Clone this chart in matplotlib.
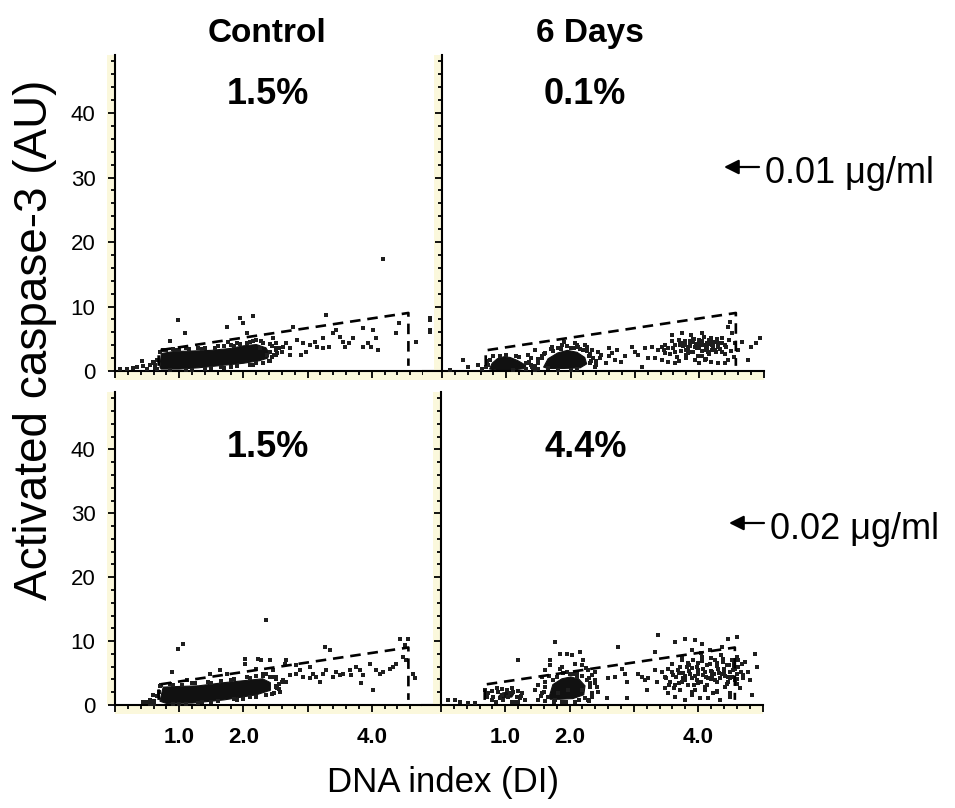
import matplotlib
matplotlib.use("Agg")
import matplotlib.pyplot as plt
import matplotlib.transforms as mtransforms
from matplotlib.patches import Rectangle, FancyArrowPatch

plt.rcParams['font.family'] = ['Liberation Sans', 'DejaVu Sans']

# ---- data (DNA index, activated caspase-3 AU) ----

# gate drawn in every panel
gate_x = [0.68, 0.68, 4.57, 4.57]
gate_y = [0.8, 3.2, 9.0, 0.8]

col_titles = ['Control', '6 Days']
row_doses = ['0.01 \u03bcg/ml', '0.02 \u03bcg/ml']
percent_labels = ['1.5%', '0.1%', '1.5%', '4.4%']
xtick_vals = [0, 1, 2, 3, 4, 5]
xtick_text = ['', '1.0', '2.0', '', '4.0', '']
ytick_vals = [0, 10, 20, 30, 40]

# dense (saturated) cores, outlines
tl_core_x = [0.70, 0.72, 0.90, 1.20, 1.50, 1.80, 2.00, 2.20, 2.35, 2.40, 2.38, 2.25, 2.00, 1.60, 1.30, 1.00, 0.72]
tl_core_y = [0.60, 2.70, 3.00, 3.10, 3.20, 3.50, 3.90, 4.10, 3.60, 2.80, 2.00, 1.60, 1.20, 0.80, 0.50, 0.30, 0.30]

tr_core1_x = [0.74, 0.78, 0.86, 0.96, 1.06, 1.18, 1.30, 1.30, 1.10, 0.85]
tr_core1_y = [0.30, 1.20, 1.90, 2.20, 2.10, 1.60, 0.90, 0.40, 0.15, 0.15]
tr_core2_x = [1.58, 1.65, 1.80, 1.95, 2.10, 2.22, 2.25, 2.15, 1.90, 1.65]
tr_core2_y = [0.60, 1.90, 2.80, 3.20, 2.90, 2.10, 1.10, 0.50, 0.40, 0.40]

bl_core_x = [0.70, 0.75, 1.00, 1.30, 1.70, 2.00, 2.30, 2.42, 2.42, 2.20, 1.70, 1.20, 0.80]
bl_core_y = [0.60, 2.80, 2.90, 3.00, 3.50, 3.80, 4.10, 3.50, 2.30, 1.60, 0.80, 0.30, 0.25]

br_core1_x = [0.90, 0.96, 1.05, 1.13, 1.10, 1.00, 0.92]
br_core1_y = [1.40, 1.90, 2.00, 1.70, 1.25, 1.15, 1.20]
br_core2_x = [1.68, 1.74, 1.88, 2.02, 2.15, 2.24, 2.22, 2.05, 1.85, 1.70]
br_core2_y = [1.20, 3.20, 4.10, 4.40, 4.00, 3.00, 1.60, 1.00, 0.90, 0.90]

# single events
tl_x = [0.985, 1.09, 0.855, 0.415, 0.596, 0.44, 0.078, 0.18, 0.285, 1.74, 1.94, 2.15, 1.995, 2.05, 1.76,
        2.46, 2.51, 2.62, 2.72, 2.77, 2.83, 2.93, 3.03, 2.98, 3.14, 3.24, 3.34, 3.29, 3.40, 3.45, 3.50, 3.55,
        3.58, 3.65, 3.71, 3.24, 3.86, 3.94, 3.99, 4.02, 4.07, 4.10, 3.86, 4.43, 4.69, 4.90, 4.90, 4.38, 2.51,
        2.72, 2.41, 2.36, 2.26, 2.90, 2.67, 3.11, 4.17,
        0.75, 0.90, 1.10, 1.40, 1.60, 1.80, 1.90, 2.10, 2.20, 2.30, 2.45, 2.50, 2.48, 2.40, 2.10, 1.80, 1.50,
        1.20, 0.65, 0.60, 2.55, 2.60, 1.30, 1.00, 1.70, 2.20,
        0.70, 0.80, 0.95, 1.15, 1.35, 1.55, 1.70, 1.85, 1.95, 2.05, 2.15, 2.28, 2.42, 2.50, 2.52, 2.45,
        2.42, 2.30, 2.15, 1.90, 1.65, 1.40, 1.10, 0.85, 0.62, 0.62, 0.66, 0.50, 0.35, 0.55]
tl_y = [7.93, 5.96, 4.66, 1.60, 1.45, 0.80, 0.28, 0.28, 0.43, 6.90, 8.20, 8.55, 7.40, 5.86, 4.56,
        5.08, 4.30, 3.78, 3.52, 6.90, 4.80, 4.30, 4.04, 3.00, 3.78, 3.52, 3.78, 8.70, 5.86, 6.40, 5.34, 4.56,
        3.78, 4.30, 5.08, 5.08, 6.60, 4.30, 3.78, 6.40, 5.08, 3.27, 3.78, 7.40, 4.56, 8.20, 6.10, 5.86, 2.50,
        2.50, 3.00, 2.50, 3.52, 2.50, 4.30, 4.56, 17.4,
        3.30, 3.40, 3.50, 3.60, 3.80, 4.00, 4.40, 4.50, 4.80, 4.40, 3.90, 3.20, 2.50, 1.50, 1.00, 0.60, 0.40,
        0.15, 0.30, 1.20, 3.60, 3.00, 3.50, 3.30, 0.50, 1.20,
        2.90, 3.20, 3.25, 3.40, 3.45, 3.50, 3.80, 3.90, 4.20, 4.30, 4.60, 4.60, 4.20, 3.60, 2.80, 2.20,
        1.60, 1.30, 1.00, 0.80, 0.55, 0.30, 0.10, 0.10, 0.50, 0.90, 1.70, 0.30, 0.60, 1.00]

tr_x = [0.332, 0.41, 0.565, 0.124, 1.34, 1.39, 1.45, 1.55, 1.71, 1.86, 2.07, 2.22, 2.25, 2.33, 2.43, 2.48,
        2.59, 2.64, 2.69, 2.72, 2.79, 2.85, 2.95, 3.00, 3.05, 3.11, 3.16, 3.26, 3.31, 3.36, 3.42, 3.47, 3.52,
        3.57, 3.62, 3.68, 3.73, 3.78, 3.80, 3.88, 3.93, 3.99, 4.04, 4.06, 4.09, 4.14, 4.19, 4.25, 4.30, 4.35,
        4.40, 4.45, 4.48, 4.51, 4.56, 4.61, 4.66, 4.76, 4.81, 4.89, 4.95, 3.83, 3.62, 3.47, 3.21, 3.93, 4.04,
        4.19, 4.30, 3.52, 3.73, 3.91, 4.01, 4.12, 4.22, 3.83, 3.62, 3.42, 4.35, 4.40, -0.19, -0.19,
        0.70, 0.80, 1.00, 1.20, 1.35, 1.40, 0.68, 1.10, 1.50, 1.55, 1.60, 1.70, 1.80, 1.95, 2.05, 2.15, 2.25,
        2.30, 2.35, 2.30, 2.38, 2.10, 1.80, 1.50, 1.45, 1.90, 2.10, 2.40,
        3.70, 3.75, 3.85, 3.95, 4.00, 4.05, 4.10, 4.15, 4.20, 4.25, 4.30, 3.80, 3.90, 4.10,
        3.45, 3.55, 3.60, 3.65, 3.70, 3.72, 3.78, 3.80, 3.82, 3.86, 3.88, 3.92, 3.96, 3.98, 4.02, 4.05,
        4.08, 4.12, 4.16, 4.18, 4.22, 4.26, 4.28, 4.32, 4.36, 4.40, 4.42, 4.46, 4.50, 4.54, 3.58, 3.68,
        4.00, 4.10, 4.45, 3.90, 4.00, 4.15, 3.85, 4.20,
        1.50, 1.58, 1.65, 1.72, 1.85, 2.00, 2.12, 2.20, 2.28, 2.32, 2.40, 2.45, 2.55, 2.60, 1.42, 1.35,
        1.30, 2.00, 0.72, 0.75, 0.90, 1.15, 1.30, 1.38, 1.45, 0.62]
tr_y = [1.70, 0.57, 0.93, 0.16, 2.50, 1.97, 3.27, 2.25, 3.78, 4.04, 4.30, 4.04, 3.78, 3.27, 3.00, 2.50,
        3.52, 2.75, 1.70, 3.27, 1.45, 2.25, 3.78, 3.00, 2.50, 0.67, 3.52, 3.78, 1.97, 3.27, 1.70, 4.04, 1.45,
        5.60, 1.19, 4.80, 5.86, 4.04, 1.97, 5.60, 3.78, 4.80, 5.86, 4.04, 1.70, 3.00, 5.08, 4.56, 3.78, 3.00,
        1.19, 6.90, 7.67, 5.86, 4.30, 3.27, 4.56, 1.70, 3.78, 4.30, 5.08, 2.75, 3.00, 2.75, 1.97, 1.70, 2.25,
        1.45, 1.19, 3.52, 4.30, 4.56, 4.04, 4.30, 3.52, 3.78, 4.04, 3.78, 5.08, 4.04, 7.90, 6.40,
        1.50, 2.30, 2.50, 2.10, 1.40, 0.60, 0.60, 0.10, 1.20, 2.00, 2.80, 3.40, 3.60, 3.90, 3.60, 3.40, 3.10,
        2.60, 2.00, 1.20, 0.60, 0.30, 0.20, 0.30, 0.80, 4.50, 4.00, 1.50,
        4.30, 3.80, 4.60, 4.20, 3.50, 4.60, 3.90, 4.80, 4.10, 3.30, 4.40, 3.20, 3.00, 3.20,
        3.20, 2.60, 3.60, 2.20, 4.00, 3.10, 4.60, 2.50, 3.40, 4.20, 2.90, 5.00, 3.60, 2.40, 4.40, 3.10,
        5.20, 3.60, 2.60, 4.50, 3.90, 2.90, 5.00, 3.40, 4.30, 2.60, 3.70, 4.80, 3.10, 2.20, 4.60, 1.60,
        1.30, 1.90, 1.70, 4.90, 4.00, 4.20, 3.80, 3.30,
        1.80, 2.60, 0.40, 3.10, 3.40, 3.60, 3.70, 3.20, 2.40, 1.50, 0.90, 2.00, 1.20, 2.40, 0.50, 1.20,
        0.30, 0.20, 0.90, 1.70, 2.40, 2.30, 1.20, 0.90, 0.20, 0.30]

bl_x = [2.359, 0.985, 1.063, 0.881, 2.022, 2.022, 2.229, 2.281, 2.410, 2.670, 2.644, 2.825, 3.033, 3.266,
        3.344, 3.240, 3.136, 3.188, 3.447, 3.499, 3.551, 3.655, 3.681, 3.836, 3.966, 4.018, 4.070, 4.121,
        4.173, 4.277, 4.329, 4.380, 4.432, 4.562, 4.510, 4.484, 4.536, 4.640, 4.666, 2.514, 2.618, 2.722,
        2.825, 2.929, 3.033, 2.514, 2.566, 2.670, 2.307, 2.410, 2.462, 1.633, 1.737, 2.203, 1.115, 1.477,
        0.544, 0.440, 0.596, 2.877, 3.085, 3.292, 3.396, 3.759, 3.810, 3.862,
        0.70, 0.90, 1.20, 1.50, 1.80, 2.10, 2.30, 2.50, 2.50, 2.45, 2.20, 1.90, 1.50, 1.00, 0.60, 0.65,
        2.60, 2.55, 1.30, 2.00,
        0.68, 0.72, 0.85, 1.05, 1.25, 1.45, 1.65, 1.85, 2.05, 2.20, 2.35, 2.48, 2.55, 2.52, 2.48, 2.35,
        2.10, 1.85, 1.60, 1.35, 1.10, 0.90, 0.60, 0.50, 0.55]
bl_y = [13.32, 8.81, 9.59, 5.18, 7.26, 6.48, 7.26, 7.00, 7.00, 7.00, 6.48, 6.22, 5.96, 9.07,
        8.55, 4.92, 4.41, 3.63, 5.18, 4.67, 4.92, 5.44, 4.67, 3.37, 6.48, 2.33, 5.44, 4.92,
        5.18, 5.70, 5.96, 6.48, 10.37, 10.37, 9.33, 7.52, 7.00, 4.92, 4.15, 4.41, 3.89, 4.67,
        4.92, 4.41, 4.15, 2.85, 2.07, 3.63, 4.92, 4.41, 5.44, 5.44, 4.92, 5.70, 3.89, 4.92,
        0.78, 0.52, 1.56, 5.44, 4.92, 5.44, 4.41, 5.96, 5.44, 4.67,
        3.00, 3.20, 3.40, 3.50, 3.90, 4.30, 4.50, 4.00, 3.00, 1.80, 1.20, 0.80, 0.50, 0.15, 0.20, 1.40,
        3.60, 2.50, 0.30, 1.00,
        2.00, 3.10, 3.30, 3.20, 3.50, 3.60, 3.80, 4.10, 4.40, 4.60, 4.80, 4.40, 3.30, 2.60, 1.90, 1.60,
        1.20, 0.90, 0.60, 0.40, 0.20, 0.10, 0.60, 0.40, 0.20]

br_x = [0.736, 0.814, 0.892, 0.943, 1.021, 1.073, 1.125, 1.177, 1.229, 0.788, 0.969, 1.099, 1.254, 0.684,
        0.866, 0.917, 1.047, 1.203, 0.114, 0.218, 0.295, 0.529, 0.425,
        1.462, 1.514, 1.566, 1.617, 1.695, 1.695, 1.773, 1.851, 1.877, 1.954, 2.032, 2.084, 2.162, 2.188,
        2.214, 2.291, 2.343, 2.395, 2.421, 2.447, 2.343, 2.291, 1.566, 1.669, 1.773, 1.877, 2.084, 2.240,
        1.203, 1.514, 1.617, 2.395, 2.317, 1.747, 2.110, 1.980, 1.825, 2.188, 2.266, 1.954, 2.058,
        2.602, 2.706, 2.758, 2.862, 2.888, 2.888, 2.576, 2.810,
        3.069, 3.121, 3.173, 3.198, 3.328, 3.354, 3.380, 3.432, 3.484, 3.536, 3.561, 3.587, 3.613, 3.639,
        3.639, 3.691, 3.717, 3.743, 3.769, 3.795, 3.821, 3.847, 3.873, 3.899, 3.924, 3.950, 3.976, 4.002,
        4.028, 4.054, 4.054, 4.080, 4.106, 4.132, 4.158, 4.184, 4.210, 4.236, 4.261, 4.287, 4.313, 4.339,
        4.365, 4.391, 4.417, 4.443, 4.469, 4.469, 4.495, 4.521, 4.547, 4.572, 4.598, 4.598, 4.624, 4.650,
        4.676, 4.702, 4.728, 4.780, 4.806, 4.831, 4.883, 4.909, 3.639, 3.795, 3.950, 4.158, 4.287, 3.536,
        3.484, 3.328, 3.224, 3.899, 4.365,
        3.70, 3.80, 3.90, 4.00, 4.10, 4.20, 4.30, 4.40, 4.50, 4.55, 4.60, 3.85, 4.00, 4.25, 4.45, 4.60,
        3.75, 3.95,
        3.50, 3.55, 3.60, 3.65, 3.70, 3.72, 3.76, 3.80, 3.84, 3.86, 3.90, 3.94, 3.98, 4.00, 4.04, 4.06,
        4.08, 4.12, 4.14, 4.18, 4.20, 4.22, 4.26, 4.30, 4.32, 4.34, 4.38, 4.40, 4.42, 4.46, 4.48, 4.50,
        4.52, 4.56, 4.58, 4.60, 4.62, 4.66, 4.70, 3.62, 3.90, 4.10, 4.30, 4.50, 4.20, 4.35, 4.05, 3.75,
        1.60, 1.62, 1.68, 1.80, 1.90, 2.00, 2.12, 2.20, 2.30, 2.32, 2.35, 2.30, 2.15, 1.95, 1.75, 1.62,
        1.55, 2.40, 1.85, 2.25,
        0.72, 0.80, 0.95, 1.10, 1.20, 1.25, 0.85, 1.15, 1.30]
br_y = [1.81, 1.19, 2.07, 1.56, 2.33, 1.81, 2.07, 1.30, 1.04, 0.78, 0.78, 0.52, 1.81, 2.33,
        2.59, 1.04, 1.19, 0.52, 0.78, 0.78, 0.52, 0.37, 0.26,
        2.33, 3.11, 4.41, 5.44, 7.00, 6.22, 9.85, 8.03, 5.96, 8.03, 7.78, 6.48, 8.29, 6.22,
        7.00, 5.44, 4.67, 3.89, 2.85, 2.07, 1.30, 0.78, 1.81, 1.30, 0.78, 0.52, 0.52, 1.04,
        7.00, 0.78, 2.85, 5.18, 3.37, 3.89, 4.41, 2.33, 1.81, 2.33, 3.89, 5.18, 4.92,
        4.15, 4.41, 9.07, 4.92, 3.63, 1.04, 1.04, 5.70,
        4.92, 4.41, 3.89, 2.33, 8.29, 3.63, 10.89, 5.18, 4.41, 5.70, 3.63, 6.48, 4.67, 9.85,
        3.11, 5.44, 2.33, 7.52, 4.15, 10.37, 5.96, 3.11, 4.92, 1.56, 7.00, 10.11, 3.89, 5.44,
        1.04, 7.52, 9.59, 4.67, 2.85, 6.22, 4.15, 8.55, 5.18, 1.81, 7.00, 3.63, 5.70, 0.78,
        4.92, 7.26, 2.85, 6.22, 10.37, 4.41, 1.30, 7.00, 5.44, 3.89, 10.63, 7.52, 5.96, 2.59,
        6.48, 4.67, 6.74, 5.18, 3.89, 1.56, 8.03, 5.96, 1.30, 0.78, 2.33, 1.04, 2.07, 1.81,
        2.59, 5.44, 4.15, 8.55, 9.07,
        5.00, 4.50, 5.80, 3.50, 5.20, 4.00, 6.60, 5.00, 4.20, 6.00, 4.80, 6.20, 6.60, 4.80, 3.30, 3.30,
        3.60, 4.60,
        4.20, 3.10, 5.20, 4.40, 3.40, 6.00, 5.00, 3.90, 6.60, 5.40, 4.20, 3.20, 6.00, 4.90, 3.60, 6.90,
        5.60, 4.40, 3.20, 6.40, 5.40, 4.60, 3.90, 6.10, 5.00, 4.30, 6.80, 5.70, 4.60, 3.60, 6.20, 5.20,
        4.40, 6.60, 5.60, 4.00, 7.00, 5.20, 4.20, 2.60, 2.10, 2.40, 2.20, 1.90, 7.40, 7.80, 8.20, 7.00,
        2.00, 3.60, 4.60, 4.40, 5.00, 4.80, 5.00, 4.60, 4.20, 2.80, 1.90, 0.60, 0.80, 0.40, 0.50, 0.60,
        1.40, 3.40, 5.60, 5.80,
        1.20, 2.20, 2.50, 2.60, 2.20, 1.40, 0.50, 0.40, 0.80]

# ---- figure ----
W, H = 955, 808
fig = plt.figure(figsize=(W / 100, H / 100), dpi=100)


def fx(px):
    return px / W


def fy(py):
    return 1 - py / H


ax_tl = fig.add_axes([fx(115), fy(371), fx(321), 316 / H])
ax_tr = fig.add_axes([fx(422.7), fy(371), fx(340.8), 316 / H])
ax_bl = fig.add_axes([fx(115), fy(705), fx(321), 313 / H])
ax_br = fig.add_axes([fx(421.7), fy(705), fx(340.8), 313 / H])

panels = [
    (ax_tl, (0, 5.0), tl_x, tl_y, [(tl_core_x, tl_core_y)], 2.38, 41.4, True, False),
    (ax_tr, (-0.3, 5.0), tr_x, tr_y, [(tr_core1_x, tr_core1_y), (tr_core2_x, tr_core2_y)],
     2.22, 41.4, False, False),
    (ax_bl, (0, 5.0), bl_x, bl_y, [(bl_core_x, bl_core_y)], 2.38, 38.9, True, True),
    (ax_br, (-0.3, 5.0), br_x, br_y, [(br_core1_x, br_core1_y), (br_core2_x, br_core2_y)],
     2.25, 38.9, False, True),
]

strip = '#fbf8dc'
for i, (ax, xlim, px, py, cores, tx, ty, ylab, xlab) in enumerate(panels):
    ax.set_xlim(xlim)
    ax.set_ylim(0, 49)
    ax.patch.set_alpha(0)

    for cx, cy in cores:
        ax.fill(cx, cy, color='#111111', lw=0.8, zorder=2)
    ax.scatter(px, py, s=5, marker='s', color='#1e1e1e', linewidths=0, zorder=3)
    ax.plot(gate_x, gate_y, color='black', lw=1.9, ls=(0, (4, 2.6)), zorder=4)

    ax.text(tx, ty, percent_labels[i], ha='center', va='baseline',
            fontsize=26, fontweight='bold')

    for s in ['top', 'right']:
        ax.spines[s].set_visible(False)
    ax.spines['left'].set_position(('data', 0))
    ax.spines['left'].set_linewidth(1.5)
    ax.spines['bottom'].set_linewidth(1.5)

    # pale strips behind the tick marks
    tr = mtransforms.blended_transform_factory(ax.transData, ax.transAxes)
    ax.add_patch(Rectangle((-0.12, 0), 0.12, 1, transform=tr, color=strip,
                           clip_on=False, zorder=0, lw=0))
    ax.add_patch(Rectangle((0, -0.028), 1, 0.028, transform=ax.transAxes, color=strip,
                           clip_on=False, zorder=0, lw=0))

    ax.set_xticks(xtick_vals)
    ax.set_xticks([v / 5 for v in range(26)], minor=True)
    ax.set_yticks(ytick_vals)
    ax.set_yticks(list(range(0, 49, 2)), minor=True)
    ax.tick_params(which='major', length=5, width=1.3, direction='out')
    ax.tick_params(which='minor', length=3, width=1.3, direction='out')
    if xlab:
        ax.set_xticklabels(xtick_text, fontsize=16, fontweight='bold')
        ax.tick_params(axis='x', which='major', pad=11)
    else:
        ax.set_xticklabels([])
    if ylab:
        ax.set_yticklabels([str(v) for v in ytick_vals], fontsize=16)
        ax.tick_params(axis='y', which='major', pad=9)
    else:
        ax.set_yticklabels([])

# column titles
fig.text(fx(267), fy(42), col_titles[0], ha='center', va='baseline', fontsize=24, fontweight='bold')
fig.text(fx(590), fy(42), col_titles[1], ha='center', va='baseline', fontsize=24, fontweight='bold')

# axis labels
fig.text(fx(443), fy(792), 'DNA index (DI)', ha='center', va='baseline', fontsize=25)
fig.text(fx(35), fy(340), 'Activated caspase-3 (AU)', ha='center', va='center',
         rotation=90, fontsize=33)

# dose markers
for dose, ay, tx0, tybase in [(row_doses[0], 167, 724, 183), (row_doses[1], 523, 729, 539)]:
    fig.text(fx(tx0 + 41), fy(tybase), dose, ha='left', va='baseline', fontsize=26)
    fig.add_artist(FancyArrowPatch(
        (fx(tx0 + 35), fy(ay)), (fx(tx0), fy(ay)), transform=fig.transFigure,
        arrowstyle='-|>', mutation_scale=22, color='black', lw=1.6,
        shrinkA=0, shrinkB=0))

fig.savefig('out.png', dpi=100)
